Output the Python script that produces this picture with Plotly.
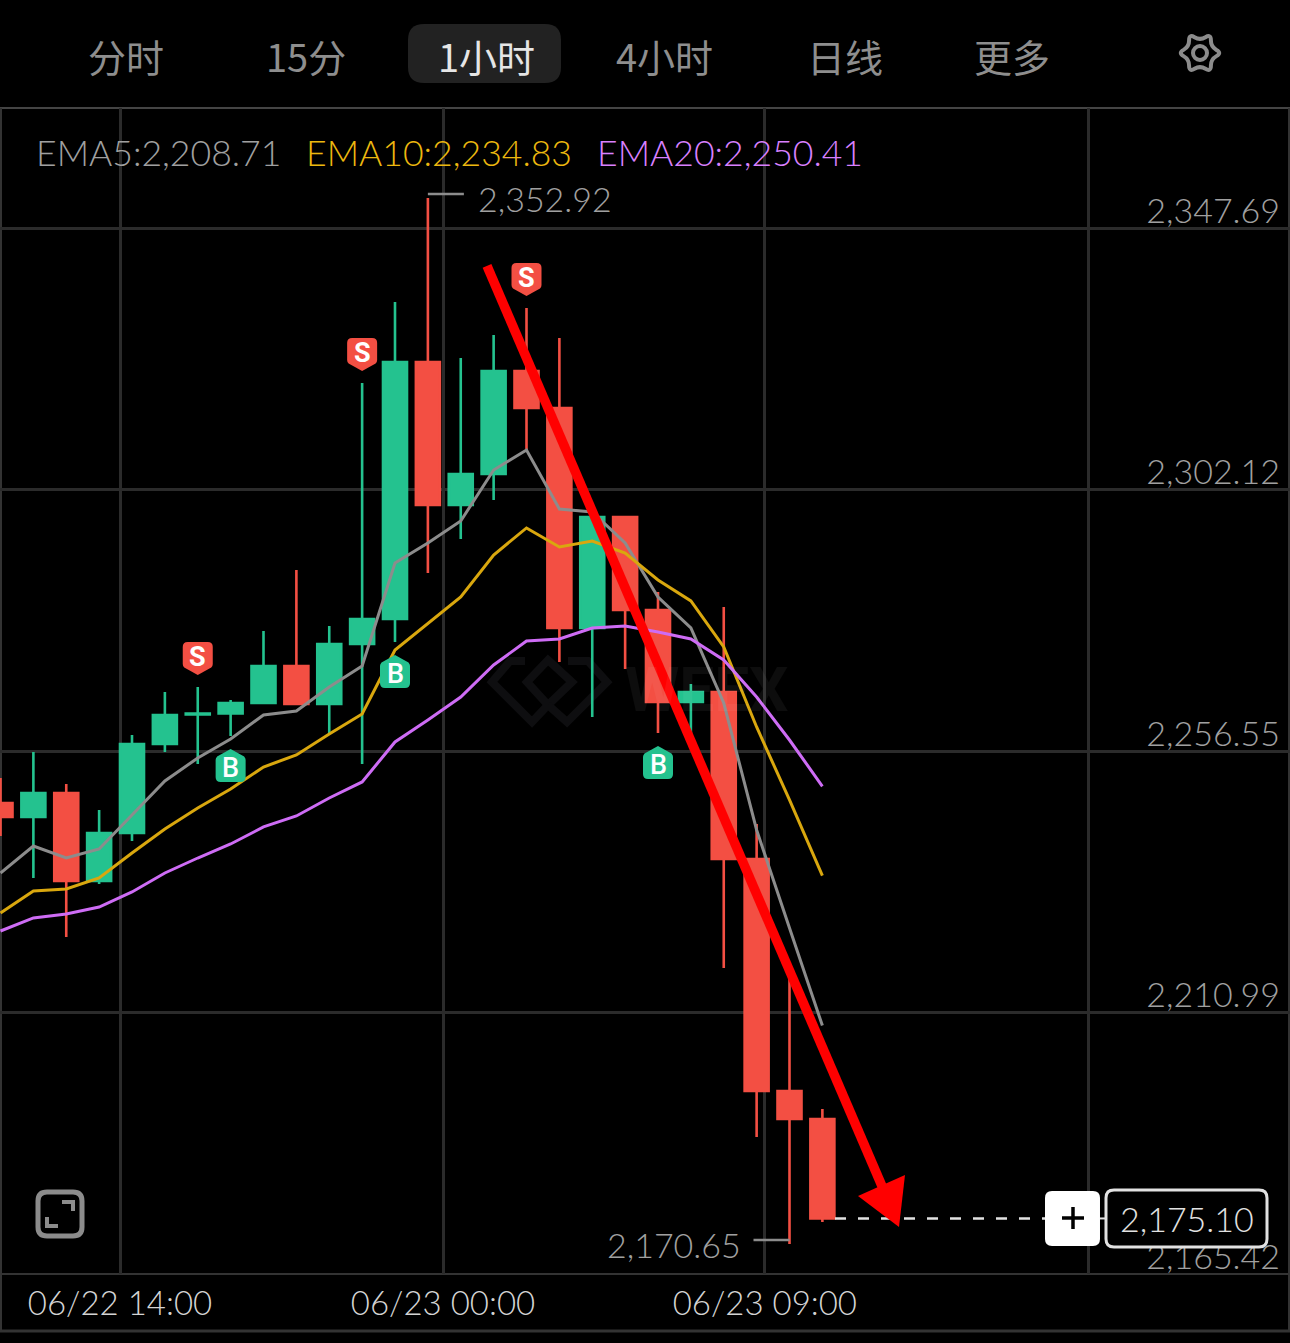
import math
import plotly.graph_objects as go

W, H = 1290, 1343
PLOT_TOP, PLOT_BOTTOM = 108, 1274

# 1-hour candles, oldest first
opens = [2247.50, 2245.06, 2249.24, 2233.91, 2242.27, 2257.78, 2262.92, 2263.09, 2264.92, 2271.37,
         2264.75, 2275.20, 2279.56, 2324.34, 2299.42, 2304.83, 2322.77, 2316.33, 2277.99, 2297.33,
         2281.13, 2265.10, 2266.84, 2237.74, 2197.31, 2192.43]
closes = [2245.06, 2249.24, 2233.91, 2242.27, 2257.78, 2262.83, 2263.09, 2264.92, 2271.37, 2264.75,
          2275.20, 2279.56, 2324.34, 2299.42, 2304.83, 2322.77, 2316.33, 2277.99, 2297.33, 2281.13,
          2265.10, 2266.84, 2237.74, 2197.31, 2192.43, 2175.10]
highs = [2251.85, 2256.38, 2250.81, 2246.28, 2259.35, 2266.84, 2267.71, 2265.44, 2277.47, 2288.10,
         2278.34, 2320.68, 2334.80, 2352.92, 2325.04, 2329.05, 2333.75, 2328.52, 2297.33, 2297.33,
         2284.26, 2268.23, 2281.65, 2243.84, 2217.53, 2194.18]
lows = [2241.75, 2234.43, 2224.15, 2233.38, 2240.88, 2256.38, 2254.29, 2259.17, 2264.92, 2264.75,
        2259.70, 2254.29, 2275.55, 2287.57, 2293.50, 2300.29, 2309.01, 2272.07, 2262.48, 2270.85,
        2259.70, 2259.70, 2218.75, 2189.30, 2170.65, 2174.49]

ema5 = [2235.30, 2240.00, 2237.91, 2239.48, 2245.41, 2251.33, 2255.34, 2258.65, 2262.83, 2263.53,
        2267.71, 2271.37, 2289.32, 2292.80, 2296.64, 2305.52, 2309.01, 2298.73, 2298.20, 2292.80,
        2283.39, 2277.99, 2264.92, 2242.79, 2225.72, 2208.71]
ema10 = [2228.33, 2232.16, 2232.51, 2234.43, 2238.78, 2242.97, 2246.63, 2249.94, 2253.77, 2255.86,
         2259.52, 2263.01, 2274.16, 2278.86, 2283.39, 2290.71, 2295.42, 2292.11, 2293.15, 2291.06,
         2286.35, 2282.70, 2274.68, 2260.74, 2248.02, 2234.83]
ema20 = [2225.19, 2227.46, 2228.16, 2229.37, 2231.99, 2235.30, 2237.91, 2240.35, 2243.32, 2245.23,
         2248.37, 2251.16, 2258.13, 2261.96, 2265.97, 2271.54, 2275.73, 2276.07, 2277.99, 2278.34,
         2277.29, 2276.07, 2272.41, 2265.97, 2258.47, 2250.41]

price_ticks = [2347.69, 2302.12, 2256.55, 2210.99, 2165.42]
time_tick_positions = [3.635, 13.46, 23.25, 33.08]
time_tick_labels = ["06/22 14:00", "06/23 00:00", "06/23 09:00", ""]
sell_signals = [6, 11, 16]
buy_signals = [7, 12, 20]
tabs = [("分时", 126), ("15分", 306), ("1小时", 486), ("4小时", 664), ("日线", 845), ("更多", 1012)]

GREEN, RED = "#24C28F", "#F34F43"
GREY, GOLD, PURPLE = "#8C8C8C", "#D9A70E", "#CE6CF5"
TEXT_GREY, TEXT_GOLD, TEXT_PURPLE = "#A0A0A0", "#EDB80F", "#D980FF"
GRID = "#2B2B2B"
LIGHT = "#E2E2E2"
WATERMARK = "#0E0E10"
LATIN = "Lato, 'Noto Sans', sans-serif"
CJK = "'Noto Sans CJK SC', sans-serif"

candle_x = list(range(len(opens)))
high_i = highs.index(max(highs))
low_i = lows.index(min(lows))
last = closes[-1]


def fx(px):
    return px / W


def fy(py):
    return 1 - py / H


def money(v):
    return f"{v:,.2f}"


def label(px, py, text, size, color, anchor="center", family=LATIN, weight=300):
    return dict(xref="paper", yref="paper", x=fx(px), y=fy(py), text=text, showarrow=False,
                xanchor=anchor, yanchor="middle",
                font=dict(size=size, color=color, family=family, weight=weight))


def page_path(points, color, width=0, fill=None, close=True, layer="above"):
    d = "M" + " L".join(f"{fx(x):.5f},{fy(y):.5f}" for x, y in points) + (" Z" if close else "")
    return dict(type="path", xref="paper", yref="paper", path=d, fillcolor=fill or "rgba(0,0,0,0)",
                line=dict(color=color, width=width), layer=layer)


def round_rect(x0, y0, x1, y1, r, line=None, width=0, fill=None, layer="above"):
    a, b, c, d = fx(x0), fx(x1), fy(y0), fy(y1)
    rx, ry = r / W, r / H
    path = (f"M{a+rx:.5f},{c:.5f} L{b-rx:.5f},{c:.5f} Q{b:.5f},{c:.5f} {b:.5f},{c-ry:.5f} "
            f"L{b:.5f},{d+ry:.5f} Q{b:.5f},{d:.5f} {b-rx:.5f},{d:.5f} "
            f"L{a+rx:.5f},{d:.5f} Q{a:.5f},{d:.5f} {a:.5f},{d+ry:.5f} "
            f"L{a:.5f},{c-ry:.5f} Q{a:.5f},{c:.5f} {a+rx:.5f},{c:.5f} Z")
    return dict(type="path", xref="paper", yref="paper", path=path, layer=layer,
                fillcolor=fill or "rgba(0,0,0,0)", line=dict(color=line or "rgba(0,0,0,0)", width=width))


def hline(py, color, width):
    return dict(type="line", xref="paper", yref="paper", x0=0, x1=1, y0=fy(py), y1=fy(py),
                line=dict(color=color, width=width), layer="below")


def vline(px, color, width):
    return dict(type="line", xref="paper", yref="paper", x0=fx(px), x1=fx(px), y0=fy(108), y1=fy(1331),
                line=dict(color=color, width=width), layer="below")


def gear(cx, cy):
    # Closed quadratic spline alternating six lobes with six valleys
    ctrl = []
    for k in range(12):
        t = math.radians(30 * k)
        r = 22.0 if k % 2 == 0 else 12.5
        ctrl.append((cx + r * math.cos(t), cy - r * math.sin(t)))
    mid = [((ctrl[k][0] + ctrl[(k + 1) % 12][0]) / 2, (ctrl[k][1] + ctrl[(k + 1) % 12][1]) / 2)
           for k in range(12)]
    d = f"M{fx(mid[11][0]):.5f},{fy(mid[11][1]):.5f}"
    for k in range(12):
        d += f" Q{fx(ctrl[k][0]):.5f},{fy(ctrl[k][1]):.5f} {fx(mid[k][0]):.5f},{fy(mid[k][1]):.5f}"
    return dict(type="path", xref="paper", yref="paper", path=d + " Z", line=dict(color=GREY, width=4))


def badge_path(sign, gap):
    # Shield outline in pixels, measured from the candle tip; sign=+1 grows upward
    v = lambda n: (gap + n) * sign
    return (f"M0,{v(0)} L-13.5,{v(7.5)} Q-15,{v(9)} -15,{v(11)} L-15,{v(28)} Q-15,{v(33)} -10,{v(33)} "
            f"L10,{v(33)} Q15,{v(33)} 15,{v(28)} L15,{v(11)} Q15,{v(9)} 13.5,{v(7.5)} Z")


fig = go.Figure()
fig.add_trace(go.Candlestick(
    x=candle_x, open=opens, high=highs, low=lows, close=closes, whiskerwidth=0,
    increasing=dict(line=dict(color=GREEN, width=2.6), fillcolor=GREEN),
    decreasing=dict(line=dict(color=RED, width=2.6), fillcolor=RED),
    showlegend=False, hoverinfo="skip"))
for values, color in ((ema5, GREY), (ema10, GOLD), (ema20, PURPLE)):
    fig.add_trace(go.Scatter(x=candle_x, y=values, mode="lines", line=dict(color=color, width=3),
                             showlegend=False, hoverinfo="skip"))

shapes = [
    hline(108, "#444444", 2),
    hline(1331, "#333333", 3),
    hline(1274, "#333333", 2),
    vline(1, "#333333", 2),
    vline(1289, "#333333", 2),
    round_rect(408, 24, 561, 83, 16, fill="#222222", layer="below"),
    gear(1200, 53),
    dict(type="circle", xref="paper", yref="paper", x0=fx(1193), x1=fx(1207), y0=fy(46), y1=fy(60),
         line=dict(color=GREY, width=4)),
    round_rect(38, 1192, 82, 1236, 9, line=GREY, width=5),
    page_path([(62, 1202), (73, 1202), (73, 1211)], GREY, 4, close=False),
    page_path([(47, 1217), (47, 1226), (58, 1226)], GREY, 4, close=False),
    # watermark emblem
    page_path([(525, 661), (510, 661), (492, 682), (532, 722), (548, 705)], WATERMARK, 8, close=False, layer="below"),
    page_path([(548, 660), (572, 682), (548, 705), (527, 682)], WATERMARK, 8, layer="below"),
    page_path([(568, 661), (588, 661), (607, 682), (567, 722), (548, 705)], WATERMARK, 8, close=False, layer="below"),
]

# Extreme price markers
shapes.append(dict(type="line", xref="x", yref="y", xsizemode="pixel", ysizemode="pixel",
                   xanchor=high_i, yanchor=highs[high_i], x0=0, x1=36, y0=4, y1=4,
                   line=dict(color=GREY, width=2.5)))
shapes.append(dict(type="line", xref="x", yref="y", xsizemode="pixel", ysizemode="pixel",
                   xanchor=low_i, yanchor=lows[low_i], x0=-36, x1=0, y0=4, y1=4,
                   line=dict(color=GREY, width=2.5)))

# Last-price guide and its tag
shapes.append(dict(type="line", xref="paper", yref="y", x0=fx(835), x1=fx(1045), y0=last, y1=last,
                   line=dict(color=LIGHT, width=2.5, dash="11px,12px")))
shapes.append(dict(type="line", xref="paper", yref="y", x0=fx(1100), x1=fx(1106), y0=last, y1=last,
                   line=dict(color=LIGHT, width=2)))
shapes.append(round_rect(1045, 1191, 1100, 1246, 7, fill="#FFFFFF"))
shapes.append(page_path([(1062, 1218), (1084, 1218)], "#000000", 3.5, close=False))
shapes.append(page_path([(1073, 1207), (1073, 1229)], "#000000", 3.5, close=False))
shapes.append(round_rect(1106, 1190, 1267, 1247, 8, line=LIGHT, width=3, fill="#000000"))

# Buy and sell signal shields, hung off the candle extremes
annotations = []
for i in sell_signals:
    shapes.append(dict(type="path", xref="x", yref="y", xsizemode="pixel", ysizemode="pixel",
                       xanchor=i, yanchor=highs[i], path=badge_path(1, 12), fillcolor=RED,
                       line=dict(width=0)))
    annotations.append(dict(xref="x", yref="y", x=i, y=highs[i], yshift=30, text="<b>S</b>",
                            showarrow=False, font=dict(size=27, color="#FFFFFF", family="Roboto")))
for i in buy_signals:
    shapes.append(dict(type="path", xref="x", yref="y", xsizemode="pixel", ysizemode="pixel",
                       xanchor=i, yanchor=lows[i], path=badge_path(-1, 13), fillcolor=GREEN,
                       line=dict(width=0)))
    annotations.append(dict(xref="x", yref="y", x=i, y=lows[i], yshift=-32, text="B",
                            showarrow=False, font=dict(size=27, color="#FFFFFF", family="Roboto", weight=500)))

# Hand-drawn trend arrow on top of the chart
shapes.append(page_path([(487, 266), (882, 1186)], "#FF0000", 9.5, close=False))
shapes.append(page_path([(905, 1175), (858, 1196), (899, 1227)], "#FF0000", 0, fill="#FF0000"))

for text, cx in tabs:
    color = "#E6E6E6" if text == "1小时" else "#8E8E8E"
    annotations.append(label(cx, 55, text, 38, color, family=CJK, weight=400))

annotations += [
    label(34, 153, f"EMA5:{money(ema5[-1])}", 35.6, TEXT_GREY, "left"),
    label(304, 153, f"EMA10:{money(ema10[-1])}", 35.6, TEXT_GOLD, "left"),
    label(595, 153, f"EMA20:{money(ema20[-1])}", 35.6, TEXT_PURPLE, "left"),
    label(1187, 1218, money(last), 34, LIGHT),
    dict(xref="x", yref="y", x=high_i, y=highs[high_i], xshift=48, yshift=-1, text=money(highs[high_i]),
         showarrow=False, xanchor="left", font=dict(size=34, color=TEXT_GREY, family=LATIN, weight=300)),
    dict(xref="x", yref="y", x=low_i, y=lows[low_i], xshift=-47, yshift=-1, text=money(lows[low_i]),
         showarrow=False, xanchor="right", font=dict(size=34, color=TEXT_GREY, family=LATIN, weight=300)),
    label(623, 689, "<b>WEEX</b>", 62, "rgba(255,255,255,0.05)", "left", family="Roboto"),
]

bottom_price = price_ticks[-1]
px_per_price = (PLOT_BOTTOM - 228) / (price_ticks[0] - price_ticks[-1])
top_price = bottom_price + (PLOT_BOTTOM - PLOT_TOP) / px_per_price
slot = 32.875

fig.update_layout(
    width=W, height=H, margin=dict(l=0, r=0, t=0, b=0), autosize=False,
    paper_bgcolor="#000000", plot_bgcolor="#000000", showlegend=False, boxgap=0.27, boxgroupgap=0,
    shapes=shapes, annotations=annotations,
    xaxis=dict(range=[-0.5 / slot, (W - 0.5) / slot], rangeslider=dict(visible=False), tickmode="array",
               tickvals=time_tick_positions, ticktext=time_tick_labels, showgrid=True, gridcolor=GRID,
               gridwidth=2.5, zeroline=False, showline=False, ticks="", automargin=False,
               tickfont=dict(size=33, color="#D4D4D4", family=LATIN, weight=300), ticklabelstandoff=7),
    yaxis=dict(domain=[fy(PLOT_BOTTOM), fy(PLOT_TOP)], range=[bottom_price, top_price], side="right",
               tickmode="array", tickvals=price_ticks, ticktext=[money(v) for v in price_ticks],
               showgrid=True, gridcolor=GRID, gridwidth=2.5, zeroline=False, showline=False,
               ticks="", ticklabelposition="inside", ticklabeloverflow="allow", ticklabelstandoff=7,
               ticklabelshift=-17, automargin=False,
               tickfont=dict(size=34, color=TEXT_GREY, family=LATIN, weight=300)),
)

fig.write_html("out.html", config=dict(displayModeBar=False))
